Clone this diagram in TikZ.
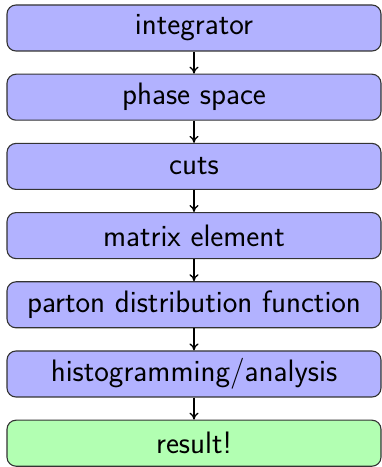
\documentclass[tikz,border=0pt]{standalone}
\usetikzlibrary{arrows.meta}
\begin{document}
\begin{tikzpicture}[x=1pt,y=1pt,
  stage/.style={draw=black!80, line width=1.1pt, rounded corners=9pt,
    minimum width=374pt, minimum height=46pt, inner sep=0pt,
    fill=blue!30, font=\sffamily\fontsize{31}{36}\selectfont},
  final/.style={stage, fill=green!30},
  flow/.style={-{To[length=7pt,width=9pt]}, line width=1.3pt}]
\useasboundingbox (0,0) rectangle (382,467);
\node[stage] (s1) at (194,439) {integrator};
\node[stage] (s2) at (194,369.8) {phase space};
\node[stage] (s3) at (194,300.6) {cuts};
\node[stage] (s4) at (194,231.4) {matrix element};
\node[stage] (s5) at (194,162.2) {parton distribution function};
\node[stage] (s6) at (194,93) {histogramming/analysis};
\node[final] (s7) at (194,23.8) {result!};
\foreach \a/\b in {s1/s2,s2/s3,s3/s4,s4/s5,s5/s6,s6/s7}
  \draw[flow] (\a) -- (\b);
\end{tikzpicture}
\end{document}
